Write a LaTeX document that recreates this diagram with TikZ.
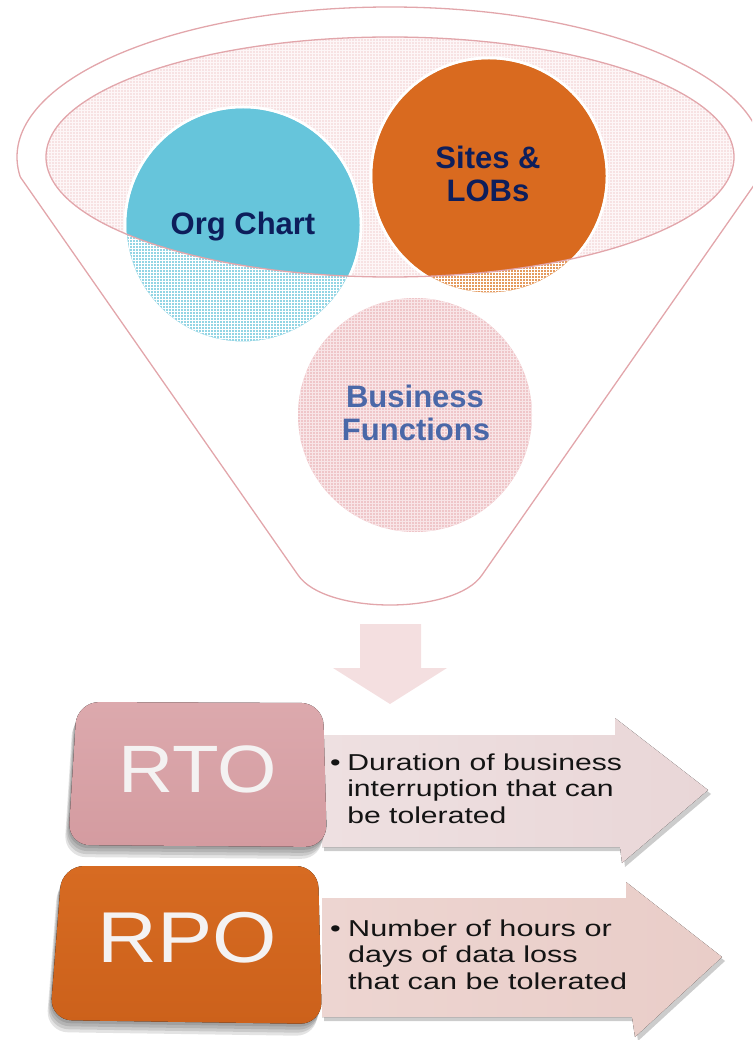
\documentclass[tikz,border=0pt]{standalone}
\usepackage{fontspec}
\setmainfont{Liberation Sans}
\usetikzlibrary{patterns}
\definecolor{funline}{HTML}{E2A6AB}
\definecolor{innerfill}{HTML}{F7E2E3}
\definecolor{orgblue}{HTML}{66C5DB}
\definecolor{orghatch}{HTML}{93D5E4}
\definecolor{siteorange}{HTML}{D96A1F}
\definecolor{sitehatch}{HTML}{E49A5E}
\definecolor{bizpink}{HTML}{EFC6C9}
\definecolor{biztext}{HTML}{4A68A8}
\definecolor{navy}{HTML}{0D1E5B}
\definecolor{downarrow}{HTML}{F4DFE0}
\definecolor{rtotop}{HTML}{DCA9AD}
\definecolor{rtobot}{HTML}{D49BA0}
\definecolor{rpotop}{HTML}{D76B22}
\definecolor{rpobot}{HTML}{CC611B}
\definecolor{rtoarrowL}{HTML}{EEE0E1}
\definecolor{rtoarrowR}{HTML}{E9D6D7}
\definecolor{rpoarrowL}{HTML}{EDD5D1}
\definecolor{rpoarrowR}{HTML}{E9CDC8}
\definecolor{boxtextcol}{HTML}{F4F2F2}
\begin{document}
\begin{tikzpicture}[x=1pt,y=-1pt,
  outline/.style={draw=funline, line width=1.3pt},
  texture/.style={pattern=grid, pattern color=white},
  circtext/.style={font=\fontsize{31}{33}\selectfont\bfseries, text=navy, inner sep=0, align=center},
  biztextstyle/.style={font=\fontsize{31}{33}\selectfont\bfseries, text=biztext, inner sep=0, align=center},
  boxlabel/.style={text=boxtextcol, inner sep=0, anchor=base},
  bullettext/.style={font=\fontsize{23}{26.5}\selectfont, text=black!92, inner sep=0, anchor=base west},
  boxshadow/.style={fill=black, opacity=0.11, rounded corners=22pt},
  arrowshadow/.style={fill=black, opacity=0.2},
]
\useasboundingbox (0,0) rectangle (752,1040);

% ---------- funnel outline ----------
\begin{scope}
  \clip (0,0) rectangle (752,177);
  \draw[outline] (390,157) ellipse[x radius=373, y radius=150];
\end{scope}
\draw[outline] (20.3,177) -- (298,575) .. controls (325,615) and (455,615) .. (482,575) -- (759.7,177);

% ---------- inner ellipse ----------
\fill[innerfill] (390,157) ellipse[x radius=344, y radius=120];
\fill[texture, pattern color=white!70!innerfill] (390,157) ellipse[x radius=344, y radius=120];

% ---------- circles ----------
\node[circle, minimum size=236pt, fill=orghatch, draw=white, line width=3pt] (org) at (243,225) {};
\fill[texture] (org.center) circle[radius=116pt];
\node[circle, minimum size=236pt, fill=sitehatch, draw=white, line width=3pt] (sites) at (489,176) {};
\fill[texture] (sites.center) circle[radius=116pt];
\begin{scope}
  \clip (390,157) ellipse[x radius=344, y radius=120];
  \fill[orgblue] (org.center) circle[radius=116.5pt];
  \fill[siteorange] (sites.center) circle[radius=116.5pt];
\end{scope}
\node[circle, minimum size=234pt, fill=bizpink] (biz) at (415,415) {};
\fill[texture, pattern color=white!55!bizpink] (biz.center) circle[radius=117pt];

\draw[outline] (390,157) ellipse[x radius=344, y radius=120];

\node[circtext, anchor=base] (orgtext) at (243,235) {Org Chart};
\node[circtext, anchor=base] (sitestext1) at (488,169) {Sites \&};
\node[circtext, anchor=base] (sitestext2) at (488,202) {LOBs};
\node[biztextstyle, anchor=base] (biztext1) at (415,407) {Business};
\node[biztextstyle, anchor=base] (biztext2) at (416,440) {Functions};

% ---------- down arrow ----------
\fill[downarrow] (360,624) -- (421,624) -- (421,668) -- (447,668) -- (390,704) -- (333,668) -- (360,668) -- cycle;

% ---------- RTO arrow ----------
\fill[arrowshadow] (324,739) -- (618,739) -- (618,722) -- (711,794) -- (625,867) -- (623,851) -- (324,851) -- cycle;
\fill[left color=rtoarrowL, right color=rtoarrowR] (322,735) -- (615,735) -- (615,718) -- (708,790) -- (622,863) -- (620,847) -- (322,847) -- cycle;

% ---------- RPO arrow ----------
\fill[arrowshadow] (324,902) -- (629,902) -- (629,886) -- (725,961) -- (638,1041) -- (635,1021) -- (324,1021) -- cycle;
\fill[left color=rpoarrowL, right color=rpoarrowR] (322,898) -- (626,898) -- (626,882) -- (722,957) -- (635,1037) -- (632,1017) -- (322,1017) -- cycle;

% ---------- RTO box ----------
\foreach \s in {3,6,9,12}
  \fill[boxshadow, shift={(-\s/3,\s)}] (77,702) -- (323,703) -- (327,847) -- (68,845) -- cycle;
\fill[rounded corners=22pt, top color=rtotop, bottom color=rtobot] (77,702) -- (323,703) -- (327,847) -- (68,845) -- cycle;
\node[boxlabel, font=\fontsize{67}{70}\selectfont] (rto) at (197.5,792) {\scalebox{1.14}[1]{RTO}};

% ---------- RPO box ----------
\foreach \s in {3,6,9,12}
  \fill[boxshadow, shift={(-\s/3,\s)}] (62,866) -- (318,866) -- (322,1024) -- (50,1020) -- cycle;
\fill[rounded corners=22pt, top color=rpotop, bottom color=rpobot] (62,866) -- (318,866) -- (322,1024) -- (50,1020) -- cycle;
\node[boxlabel, font=\fontsize{72}{75}\selectfont] (rpo) at (187.5,962) {\scalebox{1.15}[1]{RPO}};

% ---------- texts ----------
\node[bullettext] (rtotext) at (330,770) {\scalebox{1.31}[1]{\begin{tabular}[t]{@{}l@{\hspace{5pt}}l@{}}\textbullet & Duration of business\\ & interruption that can\\ & be tolerated\end{tabular}}};
\node[bullettext] (rpotext) at (330,936) {\scalebox{1.33}[1]{\begin{tabular}[t]{@{}l@{\hspace{5.5pt}}l@{}}\textbullet & Number of hours or\\ & days of data loss\\ & that can be tolerated\end{tabular}}};
\end{tikzpicture}
\end{document}
